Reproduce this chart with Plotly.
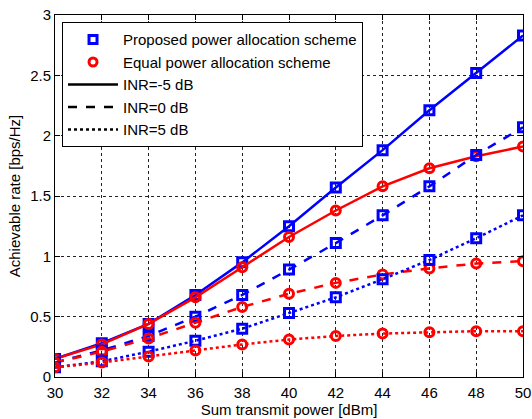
import plotly.graph_objects as go

power_dbm = [30, 32, 34, 36, 38, 40, 42, 44, 46, 48, 50]

prop_inr_m5 = [0.15, 0.28, 0.44, 0.68, 0.95, 1.25, 1.57, 1.88, 2.21, 2.52, 2.83]
equal_inr_m5 = [0.15, 0.27, 0.44, 0.66, 0.91, 1.16, 1.38, 1.58, 1.73, 1.83, 1.91]
prop_inr_0 = [0.12, 0.22, 0.34, 0.50, 0.68, 0.89, 1.11, 1.34, 1.58, 1.84, 2.07]
equal_inr_0 = [0.12, 0.21, 0.32, 0.45, 0.58, 0.69, 0.78, 0.85, 0.90, 0.94, 0.96]
prop_inr_5 = [0.08, 0.13, 0.21, 0.30, 0.40, 0.53, 0.66, 0.81, 0.97, 1.15, 1.34]
equal_inr_5 = [0.08, 0.12, 0.17, 0.22, 0.27, 0.31, 0.34, 0.36, 0.37, 0.38, 0.38]

BLUE = "#0000ff"
RED = "#ff0000"
FONT = "Liberation Sans, Arial, sans-serif"

fig = go.Figure()

series = [
    (prop_inr_m5, BLUE, "square-open", "solid"),
    (equal_inr_m5, RED, "circle-open", "solid"),
    (prop_inr_0, BLUE, "square-open", "dash"),
    (equal_inr_0, RED, "circle-open", "dash"),
    (prop_inr_5, BLUE, "square-open", "dot"),
    (equal_inr_5, RED, "circle-open", "dot"),
]
for ys, col, sym, dash in series:
    fig.add_trace(go.Scatter(
        x=power_dbm, y=ys, mode="lines+markers", showlegend=False,
        line=dict(color=col, width=2.5, dash=dash),
        marker=dict(symbol=sym, size=9, color=col, line=dict(width=3, color=col)),
    ))

# legend entries
fig.add_trace(go.Scatter(x=[None], y=[None], mode="markers", name="Proposed power allocation scheme",
                         marker=dict(symbol="square-open", size=8, color=BLUE, line=dict(width=3, color=BLUE))))
fig.add_trace(go.Scatter(x=[None], y=[None], mode="markers", name="Equal power allocation scheme",
                         marker=dict(symbol="circle-open", size=8, color=RED, line=dict(width=3, color=RED))))
fig.add_trace(go.Scatter(x=[None], y=[None], mode="lines", name="INR=-5 dB",
                         line=dict(color="black", width=2.5, dash="solid")))
fig.add_trace(go.Scatter(x=[None], y=[None], mode="lines", name="INR=0 dB",
                         line=dict(color="black", width=2.5, dash="dash")))
fig.add_trace(go.Scatter(x=[None], y=[None], mode="lines", name="INR=5 dB",
                         line=dict(color="black", width=2.5, dash="dot")))

axis_common = dict(
    showline=True, linecolor="black", linewidth=1, mirror="allticks",
    ticks="inside", ticklen=5, tickcolor="black",
    showgrid=True, gridcolor="#222222", gridwidth=1, griddash="3px,3px",
    zeroline=False, automargin=False,
    tickfont=dict(family=FONT, size=15, color="black"),
)

fig.update_layout(
    width=532, height=419,
    margin=dict(l=55, r=9, t=15, b=42),
    paper_bgcolor="white", plot_bgcolor="white",
    font=dict(family=FONT, size=15, color="black"),
    xaxis=dict(range=[30, 50], tickvals=power_dbm, ticklabelstandoff=2,
               title=dict(text="Sum transmit power [dBm]", standoff=2,
                          font=dict(family=FONT, size=15)),
               **axis_common),
    yaxis=dict(range=[0, 3], tickvals=[0, 0.5, 1, 1.5, 2, 2.5, 3],
               ticktext=["0", "0.5", "1", "1.5", "2", "2.5", "3"],
               title=dict(text="Achievable rate [bps/Hz]", standoff=5,
                          font=dict(family=FONT, size=15)),
               **axis_common),
    legend=dict(x=0.015, y=0.98, xanchor="left", yanchor="top",
                bgcolor="white", bordercolor="black", borderwidth=1,
                font=dict(family=FONT, size=15, color="black"),
                tracegroupgap=0, itemwidth=50),
)

fig.write_html("out.html")
